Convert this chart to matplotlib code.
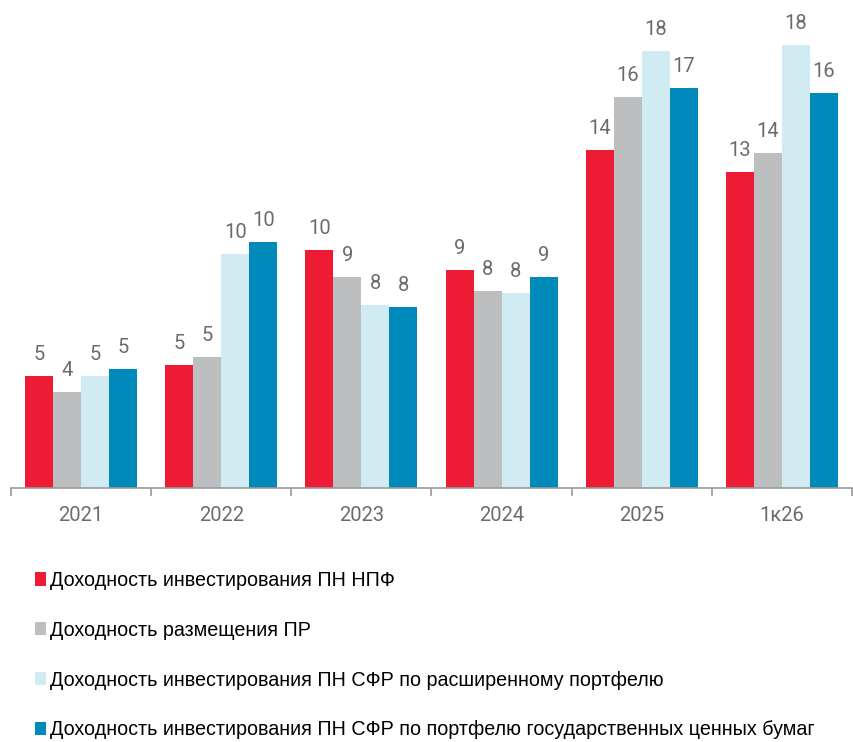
import matplotlib
matplotlib.use("Agg")
import matplotlib.pyplot as plt
from matplotlib.patches import Patch
import numpy as np

# Доходность пенсионных накоплений, % годовых
periods = ["2021", "2022", "2023", "2024", "2025", "1к26"]
npf = [4.67, 5.13, 9.92, 9.08, 14.08, 13.17]
pr = [3.99, 5.45, 8.79, 8.21, 16.29, 13.96]
sfr_wide = [4.67, 9.75, 7.63, 8.13, 18.21, 18.45]
sfr_gov = [4.96, 10.25, 7.54, 8.79, 16.67, 16.45]

series_names = [
    "Доходность инвестирования ПН НПФ",
    "Доходность размещения ПР",
    "Доходность инвестирования ПН СФР по расширенному портфелю",
    "Доходность инвестирования ПН СФР по портфелю государственных ценных бумаг",
]
colors = ["#ee1b35", "#bdbec0", "#d0ebf2", "#0089bb"]

W, H = 854, 742
fig = plt.figure(figsize=(W / 100, H / 100), dpi=100)
ax = fig.add_axes([11 / W, 1 - 488 / H, 841 / W, 488 / H])

label_font = dict(family=["Roboto", "DejaVu Sans"], fontsize=14.5, color="#6b6b6b")

x = np.arange(len(periods))
bw = 0.2
for k, (vals, col) in enumerate(zip([npf, pr, sfr_wide, sfr_gov], colors)):
    pos = x + (k - 1.5) * bw
    ax.bar(pos, vals, width=bw, color=col, linewidth=0, zorder=2)
    for px, v in zip(pos, vals):
        ax.text(px, v + 0.68, f"{v:.0f}", ha="center", va="baseline", **label_font)

ax.set_xlim(-0.5, len(periods) - 0.5)
ax.set_ylim(0, 20.33)

for s in ["top", "right", "left"]:
    ax.spines[s].set_visible(False)
ax.spines["bottom"].set_color("#9a9a9a")
ax.spines["bottom"].set_linewidth(1.2)
ax.set_yticks([])

# boundaries between groups carry the tick marks, labels sit in the middle
ax.set_xticks(np.arange(-0.5, len(periods)), minor=False)
ax.set_xticklabels([])
ax.tick_params(axis="x", which="major", length=6, width=1.2, color="#9a9a9a")
ax.set_xticks(x, minor=True)
ax.set_xticklabels(periods, minor=True, **label_font)
ax.tick_params(axis="x", which="minor", length=0, pad=13)

handles = [Patch(facecolor=c, edgecolor="none") for c in colors]
fig.legend(handles, series_names, loc="upper left",
           bbox_to_anchor=(35 / W, 1 - 571 / H), frameon=False,
           prop=dict(family=["Liberation Sans", "DejaVu Sans"], size=14.2),
           handlelength=0.55, handleheight=0.65, handletextpad=0.2,
           labelspacing=1.56, borderaxespad=0, borderpad=0)

fig.savefig("out.png", dpi=100)
